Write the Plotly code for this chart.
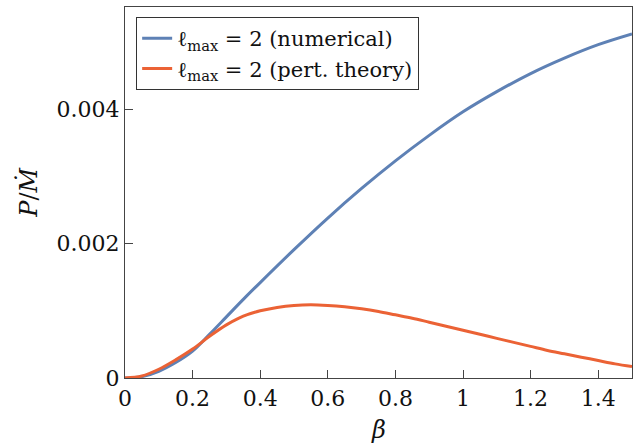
import plotly.graph_objects as go

beta_num = [0, 0.05, 0.1, 0.15, 0.2, 0.25, 0.3, 0.35, 0.4, 0.5, 0.6, 0.7, 0.8, 0.9, 1.0, 1.1, 1.2, 1.3, 1.4, 1.5]
p_num = [0, 0.00002, 0.0001, 0.00023, 0.0004, 0.00065, 0.00091, 0.00117, 0.00142, 0.00191, 0.00238, 0.00282, 0.00323, 0.00361, 0.00396, 0.00426, 0.00453, 0.00476, 0.00496, 0.00512]

beta_pert = [0, 0.05, 0.1, 0.15, 0.2, 0.25, 0.3, 0.35, 0.4, 0.45, 0.5, 0.55, 0.6, 0.65, 0.7, 0.75, 0.8,
             0.85, 0.9, 0.95, 1.0, 1.05, 1.1, 1.15, 1.2, 1.25, 1.3, 1.35, 1.4, 1.45, 1.5]
p_pert = [0, 0.00003, 0.00013, 0.00027, 0.00043, 0.00062, 0.00079, 0.00092, 0.001, 0.00105, 0.00108, 0.00109, 0.00108, 0.00106, 0.00103, 0.00099, 0.00094,
          0.00089, 0.00083, 0.00077, 0.00071, 0.00065, 0.00059, 0.00053, 0.00047, 0.00041, 0.00036, 0.00031, 0.00026, 0.00021, 0.00017]

x_ticks = [0, 0.2, 0.4, 0.6, 0.8, 1.0, 1.2, 1.4]
x_ticktext = ["0", "0.2", "0.4", "0.6", "0.8", "1", "1.2", "1.4"]
y_ticks = [0, 0.002, 0.004]
y_ticktext = ["0", "0.002", "0.004"]

names = ["ℓ<sub>max</sub> = 2 (numerical)", "ℓ<sub>max</sub> = 2 (pert. theory)"]
colors = ["#5E81B5", "#EB6235"]
x_title = "<i>β</i>"
y_title = "<i>P</i>/<i>Ṁ</i>"

SERIF = "DejaVu Serif"

fig = go.Figure()
fig.add_trace(go.Scatter(x=beta_num, y=p_num, mode="lines", name=names[0],
                         line=dict(color=colors[0], width=3, shape="spline", smoothing=1.0)))
fig.add_trace(go.Scatter(x=beta_pert, y=p_pert, mode="lines", name=names[1],
                         line=dict(color=colors[1], width=3, shape="spline", smoothing=1.0)))

axis_common = dict(showline=True, mirror=True, linecolor="#444", linewidth=1.3,
                   ticks="inside", ticklen=8, tickwidth=1.2, tickcolor="#444",
                   showgrid=False, zeroline=False, automargin=False,
                   tickfont=dict(family=SERIF, size=22, color="#111"))

fig.update_xaxes(range=[0, 1.5], tickvals=x_ticks, ticktext=x_ticktext, **axis_common)
fig.update_yaxes(range=[0, 0.00552], tickvals=y_ticks, ticktext=y_ticktext, **axis_common)

fig.add_annotation(text=x_title, xref="paper", yref="paper", x=0.5, y=-0.14,
                   xanchor="center", yanchor="middle", showarrow=False,
                   font=dict(family=SERIF, size=24, color="#111"))
fig.add_annotation(text=y_title, xref="paper", yref="paper", x=-0.191, y=0.5,
                   xanchor="center", yanchor="middle", showarrow=False, textangle=-90,
                   font=dict(family=SERIF, size=24, color="#111"))

fig.update_layout(
    width=641, height=445,
    margin=dict(l=125, r=9, t=7, b=67),
    paper_bgcolor="white", plot_bgcolor="white",
    showlegend=True,
    legend=dict(x=0.022, y=0.973, xanchor="left", yanchor="top",
                bgcolor="white", bordercolor="#333", borderwidth=1,
                font=dict(family=SERIF, size=21, color="#111"),
                itemwidth=30, tracegroupgap=0),
)

fig.write_html("out.html", config={"displayModeBar": False},
               post_script="document.body.style.margin='0';")
